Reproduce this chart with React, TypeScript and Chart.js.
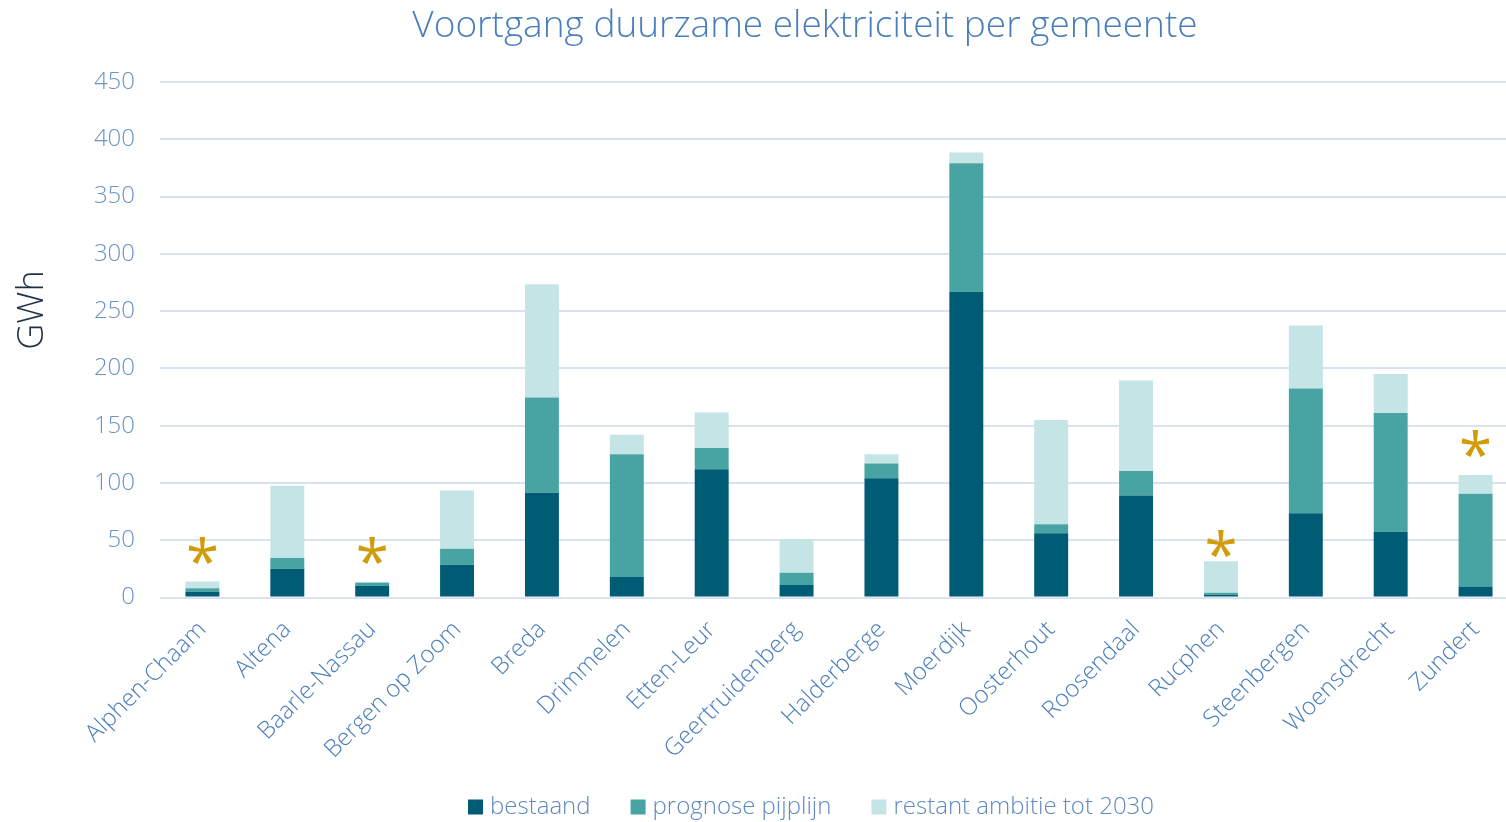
import { useEffect, useRef } from 'react';
import { Chart, registerables } from 'chart.js';

Chart.register(...registerables);

const FONT = '"Open Sans", "DejaVu Sans", sans-serif';
const W = 300;

const TITLE = 'Voortgang duurzame elektriciteit per gemeente';
const Y_TITLE = 'GWh';

const categories = [
  'Alphen-Chaam', 'Altena', 'Baarle-Nassau', 'Bergen op Zoom', 'Breda', 'Drimmelen',
  'Etten-Leur', 'Geertruidenberg', 'Halderberge', 'Moerdijk', 'Oosterhout', 'Roosendaal',
  'Rucphen', 'Steenbergen', 'Woensdrecht', 'Zundert',
];
const bestaand = [5, 25, 10, 28.5, 91.5, 18, 112, 11, 104, 267, 56, 89, 2.5, 73.5, 57.5, 9.5];
const prognose = [3, 9.5, 3, 14, 83, 107, 18.5, 10.5, 13, 112, 8, 21.5, 1.7, 109, 103.5, 81];
const restant = [6, 63, 0, 51, 99, 17, 31, 29.5, 8, 9.5, 91, 79, 27.5, 55, 34, 16.5];
// asterisk markers (value on GWh axis where the star sits), null = none
const asteriskAt = [41, null, 41, null, null, null, null, null, null, null, null, null, 47, null, null, 134.5];

const seriesLabels = ['bestaand', 'prognose pijplijn', 'restant ambitie tot 2030'];
const seriesColors = ['#005b74', '#48a4a3', '#c4e4e5'];

const yTicks = { min: 0, max: 450, step: 50 };

const overlayPlugin = {
  id: 'overlay',
  afterDatasetsDraw(chart: any) {
    const ctx = chart.ctx;
    const xs = chart.scales.x;
    const ys = chart.scales.y;
    ctx.save();
    ctx.font = `400 60px ${FONT}`;
    ctx.fillStyle = '#d09c0a';
    ctx.textAlign = 'center';
    ctx.textBaseline = 'alphabetic';
    asteriskAt.forEach((v, i) => {
      if (v === null) return;
      const m = ctx.measureText('*');
      const px = xs.getPixelForValue(i);
      const py = ys.getPixelForValue(v);
      ctx.fillText('*', px, py + (m.actualBoundingBoxAscent - m.actualBoundingBoxDescent) / 2);
    });
    ctx.restore();
  },
  afterDraw(chart: any) {
    const ctx = chart.ctx;
    ctx.save();
    // title
    ctx.font = `${W} 37px ${FONT}`;
    ctx.fillStyle = '#4a7ebb';
    ctx.textAlign = 'center';
    ctx.textBaseline = 'middle';
    ctx.fillText(TITLE, 805, 26);
    // y-axis title
    ctx.save();
    ctx.translate(33, 310);
    ctx.rotate(-Math.PI / 2);
    ctx.font = `${W} 36px ${FONT}`;
    ctx.fillStyle = '#1f3347';
    ctx.fillText(Y_TITLE, 0, 0);
    ctx.restore();
    // legend
    ctx.font = `${W} 24px ${FONT}`;
    ctx.textAlign = 'left';
    ctx.textBaseline = 'middle';
    const box = 15, gapText = 7, gapItem = 40;
    const ds = chart.data.datasets;
    const widths = ds.map((d: any) => box + gapText + ctx.measureText(d.label).width);
    const total = widths.reduce((a: number, b: number) => a + b, 0) + gapItem * (ds.length - 1);
    let x = 811 - total / 2;
    const cy = 807;
    ds.forEach((d: any, i: number) => {
      ctx.fillStyle = d.backgroundColor;
      ctx.fillRect(x, cy - box / 2, box, box);
      ctx.fillStyle = '#5f89c2';
      ctx.fillText(d.label, x + box + gapText, cy);
      x += widths[i] + gapItem;
    });
    ctx.restore();
  },
};

export default function App() {
  const canvasRef = useRef<HTMLCanvasElement | null>(null);

  useEffect(() => {
    if (!canvasRef.current) return;
    const series = [bestaand, prognose, restant];
    const chart = new Chart(canvasRef.current, {
      type: 'bar',
      data: {
        labels: categories,
        datasets: series.map((data, i) => ({
          label: seriesLabels[i],
          data,
          backgroundColor: seriesColors[i],
          borderWidth: 0,
          categoryPercentage: 0.8,
          barPercentage: 0.5,
        })),
      },
      options: {
        responsive: true,
        maintainAspectRatio: false,
        animation: false,
        layout: { padding: { top: 82, right: 2, left: 0, bottom: 0 } },
        plugins: {
          legend: { display: false },
          title: { display: false },
          tooltip: { enabled: false },
        },
        scales: {
          x: {
            stacked: true,
            grid: { display: false },
            border: { display: false },
            ticks: {
              color: '#4a7ebb',
              font: { family: FONT, size: 24, weight: W },
              maxRotation: 45,
              minRotation: 45,
              padding: 10,
            },
            afterFit: (s: any) => { s.height = 224.5; },
          },
          y: {
            stacked: true,
            min: yTicks.min,
            max: yTicks.max,
            ticks: {
              stepSize: yTicks.step,
              color: '#6a93c6',
              font: { family: FONT, size: 24, weight: W },
              padding: 25,
            },
            grid: { color: '#d9e2ef', lineWidth: 2, drawTicks: false },
            border: { display: false },
            afterFit: (s: any) => { s.width = 160; },
          },
        },
      },
      plugins: [overlayPlugin],
    });
    return () => chart.destroy();
  }, []);

  return (
    <div style={{ position: 'fixed', left: 0, top: 0, width: 1506, height: 822, overflow: 'hidden', background: '#fff' }}>
      <div style={{ position: 'relative', width: 1520, height: 822 }}>
        <canvas ref={canvasRef} />
      </div>
    </div>
  );
}
